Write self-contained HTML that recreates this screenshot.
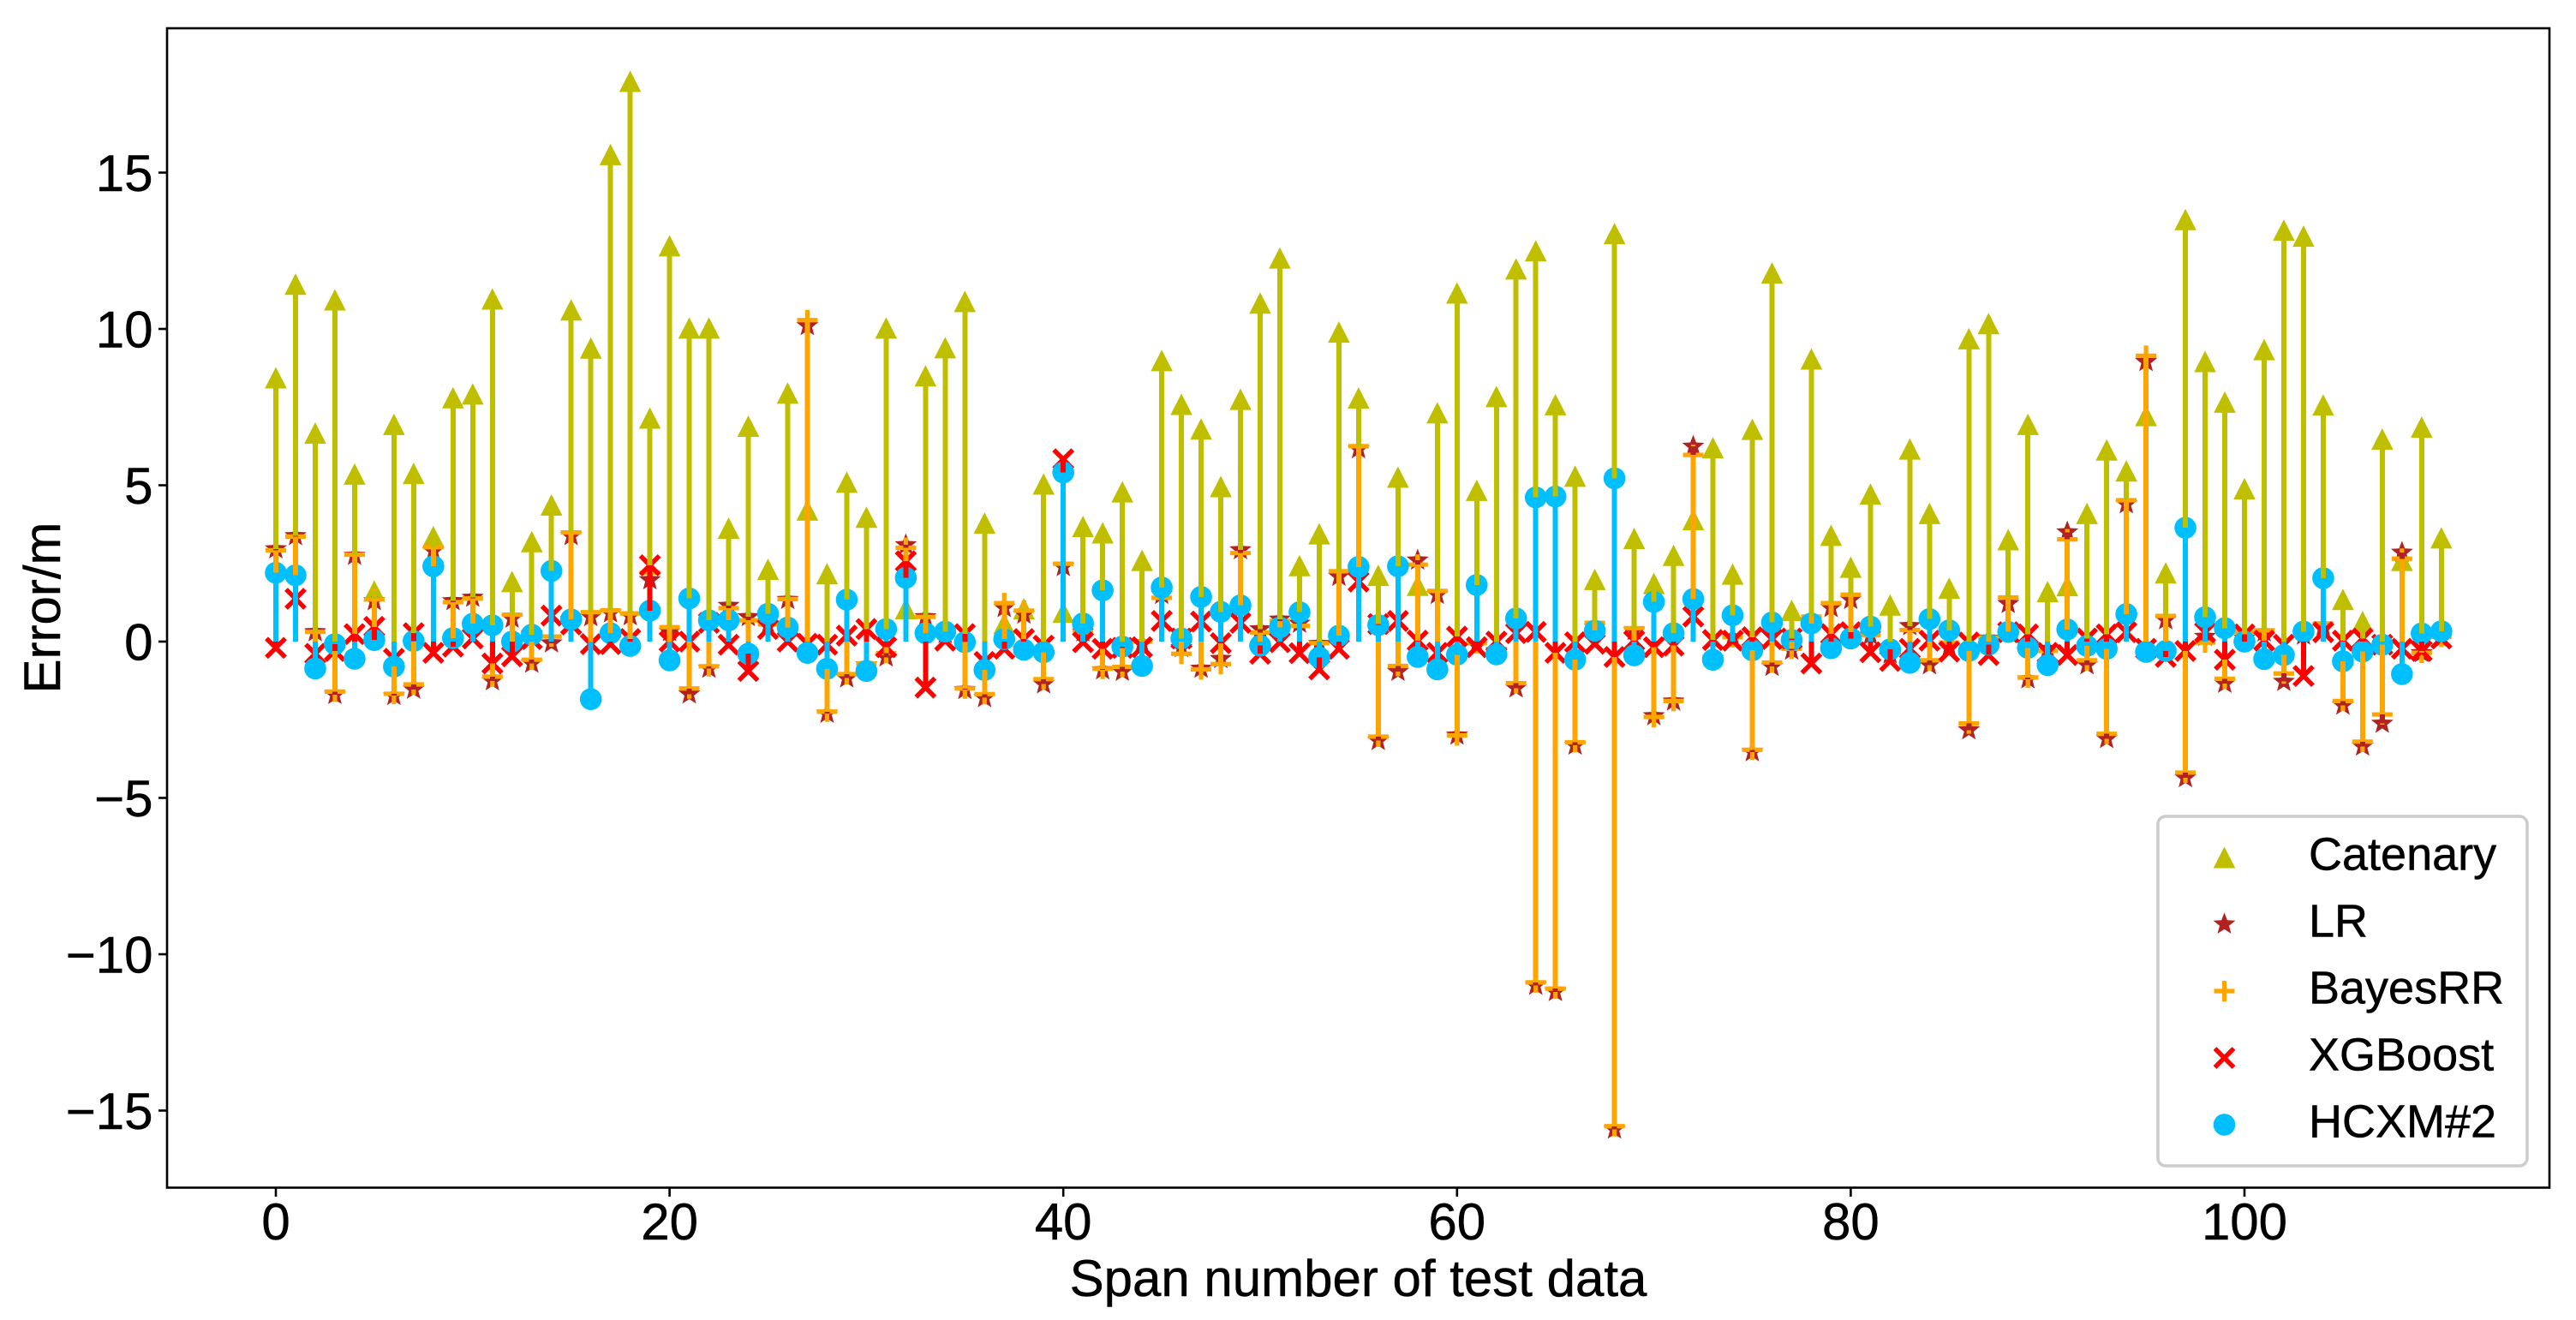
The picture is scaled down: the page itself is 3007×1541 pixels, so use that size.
<!DOCTYPE html>
<html lang="en">
<head>
<meta charset="utf-8">
<title>Error by span number of test data</title>
<style>
html,body{margin:0;padding:0;background:#fff;}
svg{display:block;}
text{font-family:"Liberation Sans",Arial,sans-serif;fill:#000;stroke:#000;stroke-width:0.5px;}
</style>
</head>
<body>
<svg id="chart" xmlns="http://www.w3.org/2000/svg" width="3007" height="1541" viewBox="0 0 3007 1541">
  <rect x="0" y="0" width="3007" height="1541" fill="#fff"/>
  <g id="markers"></g>
  <g id="stems" shape-rendering="crispEdges"></g>
  <rect x="195" y="33" width="2781" height="1353.5" fill="none" stroke="#000" stroke-width="2.6"/>
  <g id="x-axis"></g>
  <g id="y-axis"></g>
  <text x="1585.5" y="1513" font-size="60" text-anchor="middle">Span number of test data</text>
  <text transform="translate(70,709.5) rotate(-90)" font-size="60" text-anchor="middle">Error/m</text>
  <g id="legend">
    <rect x="2519" y="953" width="431" height="408" rx="9" ry="9" fill="#fff" fill-opacity="0.8" stroke="#ccc" stroke-width="3.5"/>
  </g>
</svg>
<script>
const xTicks = [0, 20, 40, 60, 80, 100];
const yTicks = [-15, -10, -5, 0, 5, 10, 15];
const seriesNames = ["Catenary", "LR", "BayesRR", "XGBoost", "HCXM#2"];
const catenary = [
  8.44,11.43,6.67,10.93,5.36,1.62,6.95,5.38,3.36,7.8,
  7.92,10.96,1.92,3.2,4.37,10.61,9.39,15.58,17.92,7.15,
  12.66,10.03,10.03,3.63,6.89,2.31,7.95,4.21,2.17,5.1,
  3.98,10.03,1.05,8.5,9.4,10.88,3.79,0.58,1.05,5.04,
  0.94,3.68,3.48,4.79,2.6,8.99,7.59,6.8,4.96,7.75,
  10.83,12.27,2.43,3.45,9.9,7.79,2.12,5.26,1.8,7.32,
  11.15,4.84,7.84,11.92,12.5,7.58,5.29,1.99,13.05,3.3,
  1.86,2.76,3.9,6.2,2.16,6.79,11.79,1.0,9.04,3.4,
  2.38,4.72,1.17,6.16,4.1,1.71,9.69,10.17,3.26,6.95,
  1.6,1.79,4.1,6.13,5.46,7.23,2.2,13.5,8.96,7.66,
  4.89,9.34,13.16,12.97,7.57,1.35,0.64,6.48,2.6,6.86,
  3.32
];
const lr = [
  2.96,3.38,0.31,-1.7,2.75,1.3,-1.73,-1.53,2.9,1.3,
  1.41,-1.26,0.74,-0.7,-0.05,3.38,0.79,0.91,0.82,1.97,
  0.31,-1.68,-0.86,1.15,0.79,0.5,1.34,10.1,-2.3,-1.17,
  -0.75,-0.5,3.09,0.79,0.25,-1.54,-1.8,1.08,0.87,-1.36,
  2.39,0.3,-0.91,-0.96,-0.05,1.5,-0.2,-0.86,-0.55,2.93,
  0.4,0.71,0.58,-0.07,2.08,6.16,-3.17,-0.96,2.6,1.5,
  -3.0,-0.13,-0.3,-1.49,-11.0,-11.2,-3.32,0.45,-15.6,0.35,
  -2.38,-1.91,6.24,-0.55,0.14,-3.53,-0.8,-0.28,0.65,1.08,
  1.34,0.2,-0.4,0.5,-0.75,-0.16,-2.83,0.1,1.21,-1.2,
  -0.23,3.5,-0.75,-3.11,4.4,8.95,0.69,-4.36,0.16,-1.34,
  0.1,0.3,-1.28,0.2,0.5,-2.04,-3.35,-2.62,2.85,-0.36,
  0.1
];
const bayesRR = [
  2.92,3.36,0.31,-1.6,2.78,1.35,-1.67,-1.37,3.02,1.26,
  1.38,-1.12,0.86,-0.58,0.16,3.49,0.94,1.0,0.9,2.2,
  0.46,-1.5,-0.79,1.07,0.68,0.55,1.36,10.28,-2.24,-1.04,
  -0.7,-0.37,3.0,0.79,0.3,-1.5,-1.68,1.23,0.99,-1.2,
  2.49,0.3,-0.87,-0.81,0.0,1.4,-0.39,-0.89,-0.72,2.83,
  0.29,0.66,0.5,-0.05,2.25,6.25,-3.04,-0.78,2.46,1.62,
  -3.0,-0.05,-0.3,-1.33,-10.9,-11.1,-3.22,0.6,-15.5,0.43,
  -2.41,-1.9,5.97,-0.5,0.14,-3.46,-0.67,-0.23,0.8,1.23,
  1.5,0.2,-0.33,0.37,-0.6,-0.03,-2.62,0.13,1.41,-1.15,
  -0.3,3.27,-0.6,-2.95,4.52,9.14,0.82,-4.19,-0.03,-1.19,
  0.3,0.36,-1.02,0.3,0.58,-1.9,-3.2,-2.33,2.65,-0.36,
  0.15
];
const xgboost = [
  -0.2,1.37,-0.39,-0.3,0.24,0.47,-0.55,0.27,-0.36,-0.16,
  0.1,-0.7,-0.47,0.08,0.83,0.55,-0.08,-0.08,0.08,2.44,
  0.0,0.0,0.6,-0.1,-0.94,0.4,0.0,-0.07,-0.1,0.19,
  0.4,-0.18,2.57,-1.47,0.03,0.24,-0.65,-0.23,0.08,-0.13,
  5.83,-0.02,-0.23,-0.2,-0.18,0.66,0.1,0.64,-0.05,0.6,
  -0.39,-0.02,-0.37,-0.89,-0.23,1.92,0.56,0.66,0.03,-0.36,
  0.16,-0.18,0.0,0.27,0.31,-0.36,-0.02,-0.07,-0.49,0.03,
  -0.18,-0.13,0.8,0.05,0.03,0.14,0.08,0.1,-0.7,0.24,
  0.3,-0.34,-0.62,-0.23,0.03,-0.32,-0.03,-0.43,0.3,0.23,
  -0.36,-0.43,0.1,0.23,0.3,-0.23,-0.49,-0.3,0.3,-0.58,
  0.23,0.03,-0.1,-1.1,0.3,0.03,0.1,-0.1,-0.23,-0.3,
  0.1
];
const hcxm2 = [
  2.2,2.12,-0.86,-0.08,-0.55,0.05,-0.8,0.02,2.41,0.11,
  0.57,0.52,0.0,0.22,2.26,0.71,-1.84,0.27,-0.14,0.99,
  -0.6,1.38,0.68,0.68,-0.39,0.89,0.45,-0.36,-0.87,1.34,
  -0.94,0.4,2.04,0.27,0.32,-0.02,-0.91,0.08,-0.26,-0.34,
  5.41,0.58,1.64,-0.16,-0.78,1.73,0.1,1.43,0.95,1.16,
  -0.13,0.45,0.94,-0.51,0.19,2.39,0.53,2.41,-0.49,-0.89,
  -0.42,1.81,-0.41,0.74,4.61,4.64,-0.58,0.35,5.22,-0.44,
  1.27,0.27,1.36,-0.58,0.84,-0.28,0.61,0.05,0.58,-0.21,
  0.1,0.48,-0.25,-0.68,0.72,0.36,-0.3,-0.1,0.31,-0.2,
  -0.75,0.39,-0.14,-0.23,0.88,-0.33,-0.3,3.64,0.78,0.43,
  0.0,-0.56,-0.43,0.32,2.03,-0.63,-0.32,-0.1,-1.04,0.26,
  0.33
];

const SVGNS = "http://www.w3.org/2000/svg";
const markerLayer = document.getElementById("markers");
const stemLayer = document.getElementById("stems");
const xAxisLayer = document.getElementById("x-axis");
const yAxisLayer = document.getElementById("y-axis");
const legendLayer = document.getElementById("legend");

function xScale(v) { return 322 + v * 22.98; }
function yScale(v) { return 749 - v * 36.5; }

function make(tag, attrs) {
  const el = document.createElementNS(SVGNS, tag);
  for (const k in attrs) el.setAttribute(k, attrs[k]);
  return el;
}

function drawTriangle(cx, cy, color) {
  return make("polygon", { points: (cx) + "," + (cy - 12.5) + " " + (cx - 12.8) + "," + (cy + 12.5) + " " + (cx + 12.8) + "," + (cy + 12.5), fill: color });
}
function drawStar(cx, cy, color) {
  const pts = [];
  for (let k = 0; k < 10; k++) {
    const r = k % 2 === 0 ? 13.6 : 5.8;
    const a = -Math.PI / 2 + k * Math.PI / 5;
    pts.push((cx + r * Math.cos(a)).toFixed(2) + "," + (cy + r * Math.sin(a)).toFixed(2));
  }
  return make("polygon", { points: pts.join(" "), fill: color });
}
function drawPlus(cx, cy, color) {
  return make("path", { d: "M" + (cx - 12) + " " + cy + "H" + (cx + 12) + "M" + cx + " " + (cy - 12) + "V" + (cy + 12), stroke: color, "stroke-width": 5.2, fill: "none" });
}
function drawCross(cx, cy, color) {
  return make("path", { d: "M" + (cx - 11) + " " + (cy - 11) + "L" + (cx + 11) + " " + (cy + 11) + "M" + (cx - 11) + " " + (cy + 11) + "L" + (cx + 11) + " " + (cy - 11), stroke: color, "stroke-width": 5.4, fill: "none" });
}
function drawCircle(cx, cy, color) {
  return make("circle", { cx: cx, cy: cy, r: 12.8, fill: color });
}

const seriesColors = ["#bfbf00", "#b22222", "#ffa500", "#ff0000", "#00bfff"];
const seriesValues = [catenary, lr, bayesRR, xgboost, hcxm2];
const seriesShapes = [drawTriangle, drawStar, drawPlus, drawCross, drawCircle];

seriesValues.forEach(function (values, s) {
  values.forEach(function (v, i) {
    const mark = seriesShapes[s](xScale(i), yScale(v), seriesColors[s]);
    
    
    markerLayer.appendChild(mark);
  });
});

seriesValues.forEach(function (values, s) {
  values.forEach(function (v, i) {
    const stem = make("line", { x1: xScale(i), x2: xScale(i), y1: yScale(0), y2: yScale(v), stroke: seriesColors[s], "stroke-width": 6 });
    
    
    stemLayer.appendChild(stem);
  });
});

xTicks.forEach(function (t) {
  const tick = make("line", { x1: xScale(t), x2: xScale(t), y1: 1386, y2: 1397, stroke: "#000", "stroke-width": 2.6 });
  
  
  xAxisLayer.appendChild(tick);
  const label = make("text", { x: xScale(t), y: 1447, "font-size": 60, "text-anchor": "middle" });
  label.textContent = String(t);
  
  
  xAxisLayer.appendChild(label);
});

yTicks.forEach(function (t) {
  const tick = make("line", { x1: 185, x2: 195, y1: yScale(t), y2: yScale(t), stroke: "#000", "stroke-width": 2.6 });
  
  
  yAxisLayer.appendChild(tick);
  const label = make("text", { x: 178.5, y: yScale(t) + 21.5, "font-size": 60, "text-anchor": "end" });
  label.textContent = t < 0 ? "\u2212" + Math.abs(t) : String(t);
  
  
  yAxisLayer.appendChild(label);
});

seriesNames.forEach(function (name, s) {
  const rowY = 1001 + s * 78;
  const entry = make("g", {});
  
  
  const glyph = seriesShapes[s](2596.5, rowY, seriesColors[s]);
  
  
  entry.appendChild(glyph);
  const label = make("text", { x: 2695, y: rowY + 14.6, "font-size": 54 });
  label.textContent = name;
  
  
  entry.appendChild(label);
  legendLayer.appendChild(entry);
});
</script>
</body>
</html>
